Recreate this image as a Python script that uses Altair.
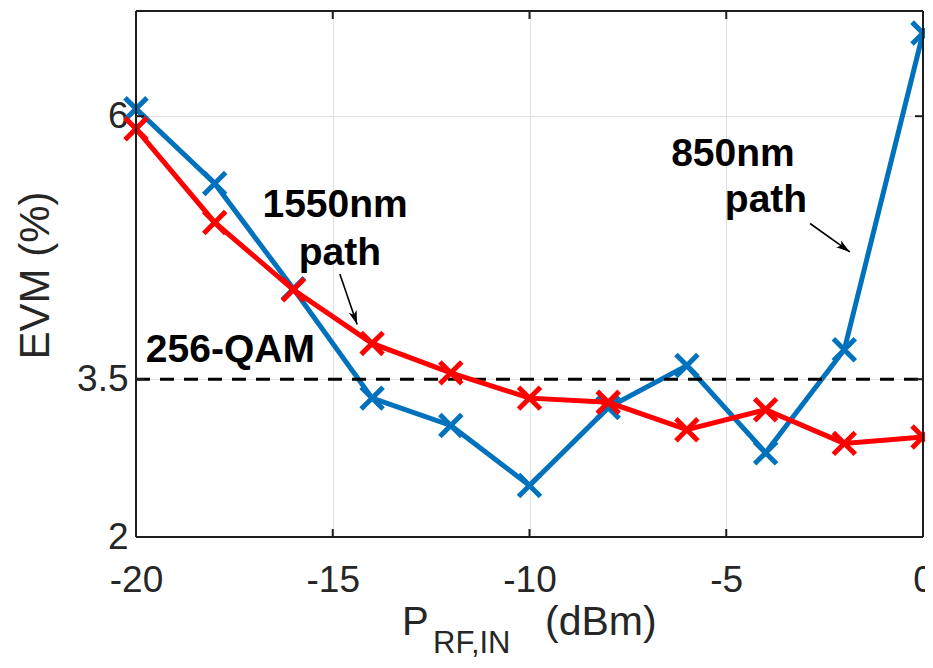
import altair as alt
import pandas as pd

# ---- data ----
p_in = [-20, -18, -16, -14, -12, -10, -8, -6, -4, -2, 0]
evm_850 = [6.07, 5.36, 4.36, 3.32, 3.06, 2.49, 3.23, 3.63, 2.80, 3.78, 6.79]
evm_1550 = [5.88, 4.99, 4.35, 3.84, 3.56, 3.32, 3.28, 3.02, 3.21, 2.89, 2.95]
threshold = 3.5
x_ticks = [-20, -15, -10, -5, 0]
y_ticks = [2, 3.5, 6]

ann_text = ["1550nm", "path", "850nm", "path"]
ann_x = [-14.94, -14.82, -4.83, -3.99]
ann_y = [5.04, 4.59, 5.53, 5.09]

arrow_x1 = [-14.82, -2.87]
arrow_y1 = [4.50, 4.98]
arrow_x2 = [-14.38, -1.86]
arrow_y2 = [4.02, 4.71]
arrow_angle = [161, 126]

BLUE = "#0072BD"
RED = "#FF0000"
FONT = "Liberation Sans"
W, H = 787, 526
FRAME = "#1e1e1e"

df850 = pd.DataFrame({"x": p_in, "evm": evm_850})
df1550 = pd.DataFrame({"x": p_in, "evm": evm_1550})
ann = pd.DataFrame({"t": ann_text, "x": ann_x, "y": ann_y})
arr = pd.DataFrame({"x": arrow_x1, "y": arrow_y1, "x2": arrow_x2, "y2": arrow_y2, "a": arrow_angle})
xt = pd.DataFrame({"x": x_ticks})
yt = pd.DataFrame({"y": y_ticks})

xs = alt.Scale(domain=[-20, 0], nice=False, zero=False)
ys = alt.Scale(domain=[2, 7], nice=False, zero=False)

xax = alt.Axis(values=x_ticks, title=None, grid=True, gridColor="#e0e0e0", gridWidth=1,
               ticks=False, domain=False, labelFontSize=37, labelFont=FONT,
               labelColor="#262626", labelPadding=25, labelFlush=False,
               labelExpr="'' + datum.value")
yax = alt.Axis(values=y_ticks, title="EVM (%)", grid=True, gridColor="#e0e0e0", gridWidth=1,
               ticks=False, domain=False, labelFontSize=37, labelFont=FONT,
               labelColor="#262626", labelPadding=8, labelFlush=False,
               labelExpr="'' + datum.value",
               titleFontSize=42, titleFont=FONT, titleFontWeight="normal",
               titleColor="#262626", titleAngle=270, titleX=-88, titleY=264,
               titleAlign="center", titleBaseline="alphabetic")

XSHAPE = "M-1,-1L1,1M-1,1L1,-1"
HEAD = "M0,0L0.6,2L0,1.5L-0.6,2Z"

base850 = alt.Chart(df850)
base1550 = alt.Chart(df1550)

line850 = base850.mark_line(color=BLUE, strokeWidth=5).encode(
    x=alt.X("x:Q", scale=xs, axis=xax), y=alt.Y("evm:Q", scale=ys, axis=yax))
pts850 = base850.mark_point(shape=XSHAPE, size=480, filled=False, color=BLUE,
                            strokeWidth=5, opacity=1).encode(
    x=alt.X("x:Q", scale=xs), y=alt.Y("evm:Q", scale=ys))
line1550 = base1550.mark_line(color=RED, strokeWidth=5).encode(
    x=alt.X("x:Q", scale=xs), y=alt.Y("evm:Q", scale=ys))
pts1550 = base1550.mark_point(shape=XSHAPE, size=480, filled=False, color=RED,
                              strokeWidth=5, opacity=1).encode(
    x=alt.X("x:Q", scale=xs), y=alt.Y("evm:Q", scale=ys))

thr = alt.Chart(pd.DataFrame({"y": [threshold]})).mark_rule(
    color="black", strokeWidth=3, strokeDash=[14, 10]).encode(
    y=alt.Y("y:Q", scale=ys), x=alt.value(0), x2=alt.value(W))

# frame box
frame_df = pd.DataFrame({"k": [0]})
fr_top = alt.Chart(frame_df).mark_rule(color=FRAME, strokeWidth=2).encode(
    x=alt.value(0), x2=alt.value(W), y=alt.value(0))
fr_bot = alt.Chart(frame_df).mark_rule(color=FRAME, strokeWidth=2).encode(
    x=alt.value(0), x2=alt.value(W), y=alt.value(H))
fr_left = alt.Chart(frame_df).mark_rule(color=FRAME, strokeWidth=2).encode(
    x=alt.value(0), y=alt.value(0), y2=alt.value(H))
fr_right = alt.Chart(frame_df).mark_rule(color=FRAME, strokeWidth=2).encode(
    x=alt.value(W), y=alt.value(0), y2=alt.value(H))

# inward ticks (MATLAB style)
xt_bot = alt.Chart(xt).mark_rule(color=FRAME, strokeWidth=2).encode(
    x=alt.X("x:Q", scale=xs), y=alt.value(H), y2=alt.value(H - 8))
xt_top = alt.Chart(xt).mark_rule(color=FRAME, strokeWidth=2).encode(
    x=alt.X("x:Q", scale=xs), y=alt.value(0), y2=alt.value(8))
yt_left = alt.Chart(yt).mark_rule(color=FRAME, strokeWidth=2).encode(
    y=alt.Y("y:Q", scale=ys), x=alt.value(0), x2=alt.value(8))
yt_right = alt.Chart(yt).mark_rule(color=FRAME, strokeWidth=2).encode(
    y=alt.Y("y:Q", scale=ys), x=alt.value(W), x2=alt.value(W - 8))

ann_marks = alt.Chart(ann).mark_text(font=FONT, fontSize=39, fontWeight="bold",
                                     color="black", align="center",
                                     baseline="alphabetic").encode(
    x=alt.X("x:Q", scale=xs), y=alt.Y("y:Q", scale=ys), text="t:N")
qam = alt.Chart(pd.DataFrame({"t": ["256-QAM"], "x": [-19.75], "y": [3.66]})).mark_text(
    font=FONT, fontSize=39, fontWeight="bold", color="black", align="left",
    baseline="alphabetic").encode(
    x=alt.X("x:Q", scale=xs), y=alt.Y("y:Q", scale=ys), text="t:N")

arrow_lines = alt.Chart(arr).mark_rule(color="black", strokeWidth=1.6).encode(
    x=alt.X("x:Q", scale=xs), y=alt.Y("y:Q", scale=ys),
    x2="x2:Q", y2="y2:Q")
arrow_heads = alt.Chart(arr).mark_point(shape=HEAD, size=190, filled=True,
                                        color="black", opacity=1).encode(
    x=alt.X("x2:Q", scale=xs), y=alt.Y("y2:Q", scale=ys),
    angle=alt.Angle("a:Q", scale=None))

# x-axis title with subscript
xt_p = alt.Chart(pd.DataFrame({"t": ["P"]})).mark_text(
    font=FONT, fontSize=40, color="#262626", align="left", baseline="alphabetic").encode(
    x=alt.value(266), y=alt.value(624), text="t:N")
xt_sub = alt.Chart(pd.DataFrame({"t": ["RF,IN"]})).mark_text(
    font=FONT, fontSize=31, color="#262626", align="left", baseline="alphabetic").encode(
    x=alt.value(297), y=alt.value(642), text="t:N")
xt_unit = alt.Chart(pd.DataFrame({"t": ["(dBm)"]})).mark_text(
    font=FONT, fontSize=41, color="#262626", align="left", baseline="alphabetic").encode(
    x=alt.value(409), y=alt.value(624), text="t:N")

chart = alt.layer(
    line850, thr, pts850, line1550, pts1550,
    fr_top, fr_bot, fr_left, fr_right,
    xt_bot, xt_top, yt_left, yt_right,
    ann_marks, qam, arrow_lines, arrow_heads,
    xt_p, xt_sub, xt_unit,
).properties(
    width=W, height=H,
    background="white",
    autosize=alt.AutoSizeParams(type="none"),
    padding={"left": 128, "top": 3, "right": 2, "bottom": 123},
).configure_view(
    stroke=None
)

chart.save("out.html", embed_options={"renderer": "svg", "actions": False})
